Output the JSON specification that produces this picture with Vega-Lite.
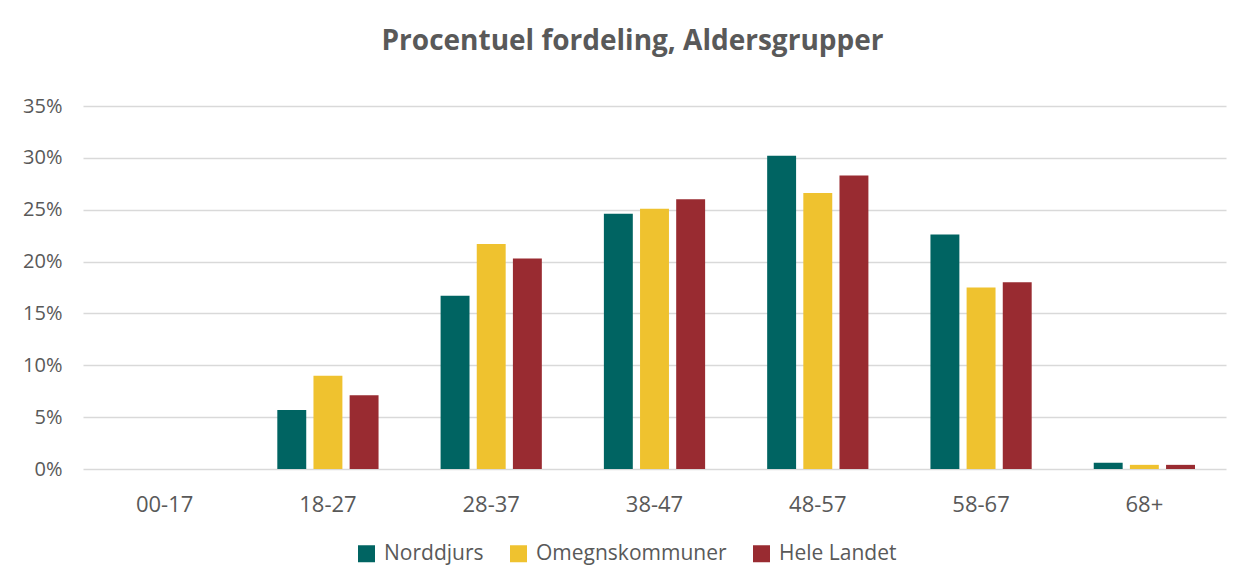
{
  "$schema": "https://vega.github.io/schema/vega-lite/v6.json",
  "width": 1143,
  "height": 363,
  "autosize": {"type": "none"},
  "padding": {"left": 83, "top": 106, "right": 16, "bottom": 109},
  "background": "white",
  "title": {
    "text": "Procentuel fordeling, Aldersgrupper",
    "font": "Open Sans",
    "fontSize": 28,
    "fontWeight": "bold",
    "color": "#595959",
    "anchor": "middle",
    "dx": -22,
    "offset": 40
  },
  "data": {
    "values": [
      {"age": "00-17", "region": "Norddjurs", "pct": 0},
      {"age": "00-17", "region": "Omegnskommuner", "pct": 0},
      {"age": "00-17", "region": "Hele Landet", "pct": 0},
      {"age": "18-27", "region": "Norddjurs", "pct": 5.7},
      {"age": "18-27", "region": "Omegnskommuner", "pct": 9.0},
      {"age": "18-27", "region": "Hele Landet", "pct": 7.1},
      {"age": "28-37", "region": "Norddjurs", "pct": 16.7},
      {"age": "28-37", "region": "Omegnskommuner", "pct": 21.7},
      {"age": "28-37", "region": "Hele Landet", "pct": 20.3},
      {"age": "38-47", "region": "Norddjurs", "pct": 24.6},
      {"age": "38-47", "region": "Omegnskommuner", "pct": 25.1},
      {"age": "38-47", "region": "Hele Landet", "pct": 26.0},
      {"age": "48-57", "region": "Norddjurs", "pct": 30.2},
      {"age": "48-57", "region": "Omegnskommuner", "pct": 26.6},
      {"age": "48-57", "region": "Hele Landet", "pct": 28.3},
      {"age": "58-67", "region": "Norddjurs", "pct": 22.6},
      {"age": "58-67", "region": "Omegnskommuner", "pct": 17.5},
      {"age": "58-67", "region": "Hele Landet", "pct": 18.0},
      {"age": "68+", "region": "Norddjurs", "pct": 0.6},
      {"age": "68+", "region": "Omegnskommuner", "pct": 0.4},
      {"age": "68+", "region": "Hele Landet", "pct": 0.4}
    ]
  },
  "mark": {"type": "bar"},
  "encoding": {
    "x": {
      "field": "age",
      "type": "nominal",
      "sort": null,
      "scale": {"paddingInner": 0.38, "paddingOuter": 0.19},
      "axis": {
        "title": null,
        "labelAngle": 0,
        "labelFont": "Open Sans",
        "labelFontSize": 22,
        "labelColor": "#595959",
        "labelPadding": 25,
        "ticks": false,
        "domain": false
      }
    },
    "xOffset": {
      "field": "region",
      "type": "nominal",
      "sort": ["Norddjurs", "Omegnskommuner", "Hele Landet"],
      "scale": {"paddingInner": 0.2, "paddingOuter": 0}
    },
    "y": {
      "field": "pct",
      "type": "quantitative",
      "scale": {"domain": [0, 35], "nice": false},
      "axis": {
        "title": null,
        "values": [0, 5, 10, 15, 20, 25, 30, 35],
        "labelExpr": "datum.value + '%'",
        "labelFont": "Open Sans",
        "labelFontSize": 20,
        "labelColor": "#595959",
        "labelPadding": 21,
        "ticks": false,
        "domain": false,
        "gridColor": "#d9d9d9",
        "gridWidth": 1.5
      }
    },
    "color": {
      "field": "region",
      "type": "nominal",
      "sort": ["Norddjurs", "Omegnskommuner", "Hele Landet"],
      "scale": {
        "domain": ["Norddjurs", "Omegnskommuner", "Hele Landet"],
        "range": ["#006462", "#EFC22F", "#992B31"]
      },
      "legend": {
        "title": null,
        "orient": "none",
        "legendX": 273,
        "legendY": 437,
        "direction": "horizontal",
        "symbolType": "square",
        "symbolSize": 289,
        "symbolStrokeWidth": 0,
        "labelFont": "Open Sans",
        "labelFontSize": 21,
        "labelColor": "#595959",
        "labelLimit": 300,
        "labelOffset": 7,
        "columnPadding": 24
      }
    }
  },
  "config": {
    "view": {"stroke": null}
  }
}
